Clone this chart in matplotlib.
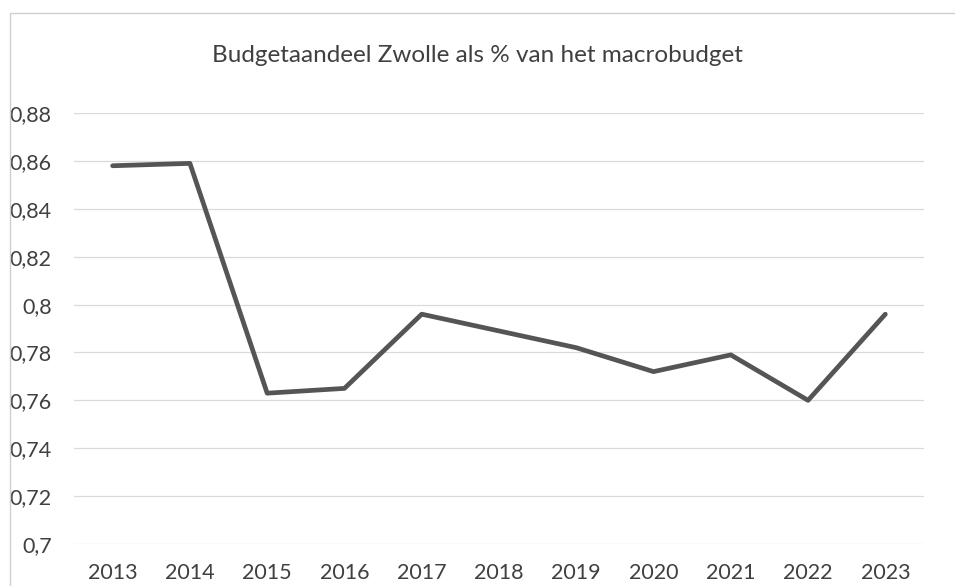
import matplotlib
matplotlib.use("Agg")
import matplotlib.pyplot as plt
from matplotlib.patches import Rectangle

years = ["2013", "2014", "2015", "2016", "2017", "2018", "2019", "2020", "2021", "2022", "2023"]
share = [0.858, 0.859, 0.763, 0.765, 0.796, 0.789, 0.782, 0.772, 0.779, 0.760, 0.796]
ytick_values = [0.70, 0.72, 0.74, 0.76, 0.78, 0.80, 0.82, 0.84, 0.86, 0.88]
ytick_labels = ["0,7", "0,72", "0,74", "0,76", "0,78", "0,8", "0,82", "0,84", "0,86", "0,88"]
title = "Budgetaandeel Zwolle als % van het macrobudget"

plt.rcParams['font.family'] = ['Lato', 'DejaVu Sans']

fig = plt.figure(figsize=(9.55, 5.86), dpi=100)
fig.patch.set_facecolor("white")
ax = fig.add_axes([0.0775, 0.0717, 0.89, 0.7353])

x = list(range(len(years)))
ax.plot(x, share, color="#555555", linewidth=3.4, solid_capstyle="round", solid_joinstyle="round", zorder=3)

ax.set_xlim(-0.5, len(years) - 0.5)
ax.set_ylim(0.70, 0.88)
ax.set_yticks(ytick_values)
ax.set_yticklabels(ytick_labels)
ax.set_xticks(x)
ax.set_xticklabels(years)
ax.tick_params(axis="both", length=0, labelsize=15.5, labelcolor="#404040")
ax.tick_params(axis="y", pad=16)
ax.tick_params(axis="x", pad=14)
ax.grid(axis="y", color="#dadada", linewidth=0.9)
ax.set_axisbelow(True)
for s in ax.spines.values():
    s.set_visible(False)

fig.text(0.5, 1 - 55 / 586, title, ha="center", va="center", fontsize=17.5, color="#404040")

fig.add_artist(Rectangle((10 / 955, -0.05), 1.2, 1.05 - 13 / 586, transform=fig.transFigure,
                         fill=False, edgecolor="#d0d0d0", linewidth=1.0))

fig.savefig("out.png", dpi=100)
